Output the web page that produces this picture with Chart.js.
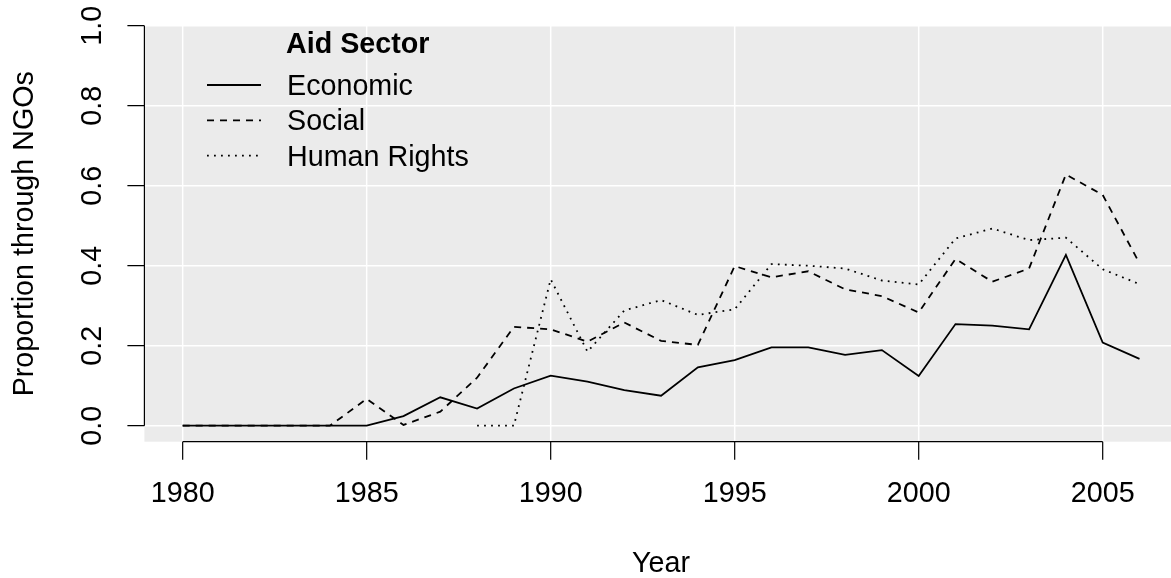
<!DOCTYPE html>
<html>
<head>
<meta charset="utf-8">
<script src="https://cdn.jsdelivr.net/npm/chart.js@4"></script>
<style>
  html, body { margin: 0; padding: 0; background: #fff; overflow: hidden; }
  #wrap { width: 1171px; height: 578px; }
</style>
</head>
<body>
<div id="wrap"><canvas id="chartLine" width="1171" height="578"></canvas></div>
<script>
const years = [1980, 1981, 1982, 1983, 1984, 1985, 1986, 1987, 1988, 1989, 1990, 1991, 1992,
               1993, 1994, 1995, 1996, 1997, 1998, 1999, 2000, 2001, 2002, 2003, 2004, 2005, 2006];
const economic = [0, 0, 0, 0, 0, 0, 0.024, 0.071, 0.043, 0.093, 0.125, 0.11, 0.089,
                  0.075, 0.146, 0.164, 0.196, 0.196, 0.177, 0.189, 0.124, 0.254, 0.25, 0.241, 0.427, 0.208, 0.167];
const social = [0, 0, 0, 0, 0, 0.067, 0.002, 0.035, 0.12, 0.247, 0.241, 0.21, 0.258,
                0.212, 0.202, 0.399, 0.371, 0.386, 0.341, 0.324, 0.283, 0.417, 0.36, 0.393, 0.628, 0.577, 0.406];
const humanRights = [null, null, null, null, null, null, null, null, 0, 0, 0.366, 0.185, 0.288,
                     0.314, 0.277, 0.291, 0.404, 0.4, 0.393, 0.363, 0.353, 0.468, 0.493, 0.464, 0.47, 0.391, 0.354];
const xTicks = [1980, 1985, 1990, 1995, 2000, 2005];
const yTicks = [0, 0.2, 0.4, 0.6, 0.8, 1.0];

const FONT = '"Liberation Sans", Arial, sans-serif';
const SIZE = "28.7px ";

function points(values) {
    return years.map((yr, i) => ({ x: yr, y: values[i] }));
}

// grey panel and white grid, drawn under the lines
const panel = {
    id: "panel",
    beforeDatasetsDraw(chart) {
        const { ctx, chartArea: a, scales: { x, y } } = chart;
        ctx.save();
        ctx.fillStyle = "#EBEBEB";
        ctx.fillRect(a.left, a.top, a.right - a.left, a.bottom - a.top);
        ctx.strokeStyle = "#ffffff";
        ctx.lineWidth = 1.5;
        ctx.beginPath();
        yTicks.forEach(v => {
            const py = y.getPixelForValue(v);
            ctx.moveTo(a.left, py);
            ctx.lineTo(a.right, py);
        });
        xTicks.forEach(v => {
            const px = x.getPixelForValue(v);
            ctx.moveTo(px, a.top);
            ctx.lineTo(px, a.bottom);
        });
        ctx.stroke();
        ctx.restore();
    }
};

// base-graphics style axes, labels and legend
const axes = {
    id: "axes",
    afterDraw(chart) {
        const { ctx, chartArea: a, scales: { x, y } } = chart;
        ctx.save();
        ctx.strokeStyle = "#000";
        ctx.fillStyle = "#000";
        ctx.lineWidth = 1.2;

        // x axis
        const x0 = x.getPixelForValue(xTicks[0]);
        const x1 = x.getPixelForValue(xTicks[xTicks.length - 1]);
        ctx.beginPath();
        ctx.moveTo(x0, a.bottom);
        ctx.lineTo(x1, a.bottom);
        xTicks.forEach(v => {
            const px = x.getPixelForValue(v);
            ctx.moveTo(px, a.bottom);
            ctx.lineTo(px, a.bottom + 18);
        });
        // y axis
        const y0 = y.getPixelForValue(yTicks[0]);
        const y1 = y.getPixelForValue(yTicks[yTicks.length - 1]);
        ctx.moveTo(a.left, y0);
        ctx.lineTo(a.left, y1);
        yTicks.forEach(v => {
            const py = y.getPixelForValue(v);
            ctx.moveTo(a.left, py);
            ctx.lineTo(a.left - 17, py);
        });
        ctx.stroke();

        ctx.font = SIZE + FONT;
        ctx.textAlign = "center";
        ctx.textBaseline = "middle";
        xTicks.forEach(v => {
            ctx.fillText(String(v), x.getPixelForValue(v), 494);
        });
        ctx.fillText("Year", 661, 564);

        yTicks.forEach(v => {
            ctx.save();
            ctx.translate(93, y.getPixelForValue(v));
            ctx.rotate(-Math.PI / 2);
            ctx.fillText(v.toFixed(1), 0, 0);
            ctx.restore();
        });
        ctx.save();
        ctx.translate(25, (a.top + a.bottom) / 2);
        ctx.rotate(-Math.PI / 2);
        ctx.fillText("Proportion through NGOs", 0, 0);
        ctx.restore();

        // legend
        ctx.textAlign = "left";
        ctx.textBaseline = "alphabetic";
        ctx.font = "bold " + SIZE + FONT;
        ctx.fillText("Aid Sector", 286, 53);
        ctx.font = SIZE + FONT;
        chart.data.datasets.forEach((ds, i) => {
            const ly = 85 + i * 35.3;
            ctx.save();
            ctx.lineWidth = ds.borderWidth;
            ctx.setLineDash(ds.borderDash || []);
            ctx.beginPath();
            ctx.moveTo(207, ly);
            ctx.lineTo(261, ly);
            ctx.stroke();
            ctx.restore();
            ctx.fillText(ds.label, 287, ly + 10);
        });
        ctx.restore();
    }
};

const data = {
    datasets: [
        {
            label: "Economic",
            data: points(economic),
            borderColor: "#000",
            borderWidth: 1.8,
        },
        {
            label: "Social",
            data: points(social),
            borderColor: "#000",
            borderWidth: 1.8,
            borderDash: [7, 6],
        },
        {
            label: "Human Rights",
            data: points(humanRights),
            borderColor: "#000",
            borderWidth: 1.8,
            borderDash: [1.8, 5.2],
        }
    ]
};

const configLineChart = {
    type: "line",
    data,
    options: {
        responsive: false,
        animation: false,
        spanGaps: false,
        elements: { point: { radius: 0 }, line: { tension: 0, fill: false } },
        layout: { padding: { left: 144.4, top: 25.7, right: 0, bottom: 136.3 } },
        plugins: { legend: { display: false }, tooltip: { enabled: false } },
        scales: {
            x: { type: "linear", display: false, min: 1978.96, max: 2006.856 },
            y: { type: "linear", display: false, min: -0.04, max: 1.0 }
        }
    },
    plugins: [panel, axes]
};

var chartLine = new Chart(
    document.getElementById("chartLine"),
    configLineChart
);
</script>
</body>
</html>
